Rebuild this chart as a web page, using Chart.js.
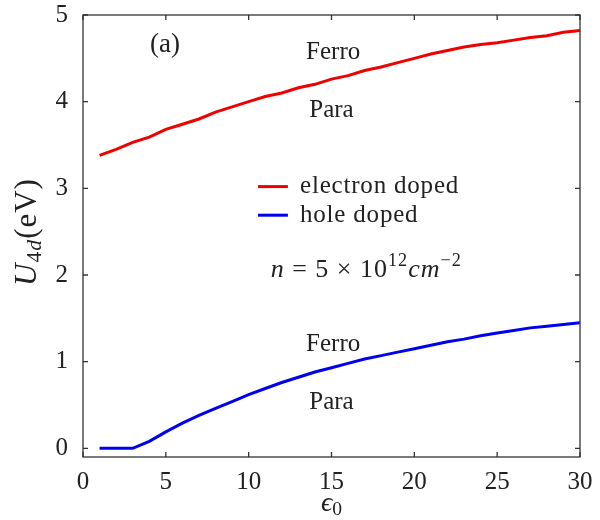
<!DOCTYPE html>
<html>
<head>
<meta charset="utf-8">
<script src="https://cdn.jsdelivr.net/npm/chart.js@4.4.1/dist/chart.umd.min.js"></script>
<style>
  html, body { margin: 0; padding: 0; background: #fff; }
  #wrap { width: 600px; height: 520px; }
</style>
</head>
<body>
<div id="wrap"><canvas id="chart" width="600" height="520"></canvas></div>
<script>
const epsilon = [1, 2, 3, 4, 5, 6, 7, 8, 9, 10, 11, 12, 13, 14, 15, 16, 17, 18, 19, 20, 21, 22, 23, 24, 25, 26, 27, 28, 29, 30];
const electronDoped = [3.38, 3.45, 3.53, 3.59, 3.68, 3.74, 3.80, 3.88, 3.94, 4.00, 4.06, 4.10, 4.16, 4.20, 4.26, 4.30, 4.36, 4.40, 4.45, 4.50, 4.55, 4.59, 4.63, 4.66, 4.68, 4.71, 4.74, 4.76, 4.80, 4.82];
const holeDoped = [0, 0, 0, 0.08, 0.19, 0.29, 0.38, 0.46, 0.54, 0.62, 0.69, 0.76, 0.82, 0.88, 0.93, 0.98, 1.03, 1.07, 1.11, 1.15, 1.19, 1.23, 1.26, 1.30, 1.33, 1.36, 1.39, 1.41, 1.43, 1.45];
const seriesLabels = ["electron doped", "hole doped"];
const xTicks = [0, 5, 10, 15, 20, 25, 30];
const yTicks = [0, 1, 2, 3, 4, 5];

const SERIF = "'Liberation Serif', 'DejaVu Serif', serif";
const INK = "#222";

// draws label pieces one after another
function drawPieces(ctx, pieces, x, y, size) {
  let cx = x;
  pieces.forEach(p => {
    const s = p.small ? size * 0.7 : size;
    ctx.font = (p.italic ? "italic " : "") + s + "px " + SERIF;
    ctx.fillText(p.t, cx, y + (p.dy || 0));
    cx += ctx.measureText(p.t).width;
  });
  return cx - x;
}
function piecesWidth(ctx, pieces, size) {
  let w = 0;
  pieces.forEach(p => {
    const s = p.small ? size * 0.7 : size;
    ctx.font = (p.italic ? "italic " : "") + s + "px " + SERIF;
    w += ctx.measureText(p.t).width;
  });
  return w;
}

const framePlugin = {
  id: "frame",
  afterDraw(chart) {
    const ctx = chart.ctx;
    const a = chart.chartArea;
    const xs = chart.scales.x, ys = chart.scales.y;
    ctx.save();
    ctx.strokeStyle = "#333";
    ctx.lineWidth = 1.3;
    ctx.strokeRect(a.left, a.top, a.right - a.left, a.bottom - a.top);
    ctx.beginPath();
    xTicks.forEach(v => {
      const px = xs.getPixelForValue(v);
      ctx.moveTo(px, a.bottom); ctx.lineTo(px, a.bottom - 5);
      ctx.moveTo(px, a.top); ctx.lineTo(px, a.top + 5);
    });
    yTicks.forEach(v => {
      const py = ys.getPixelForValue(v);
      ctx.moveTo(a.left, py); ctx.lineTo(a.left + 5, py);
      ctx.moveTo(a.right, py); ctx.lineTo(a.right - 5, py);
    });
    ctx.stroke();

    ctx.fillStyle = INK;
    ctx.textBaseline = "middle";
    ctx.textAlign = "center";
    const at = (x, y) => [xs.getPixelForValue(x), ys.getPixelForValue(y)];
    ctx.font = "27px " + SERIF;
    let p = at(4.95, 4.65); ctx.fillText("(a)", p[0], p[1]);
    ctx.font = "25px " + SERIF;
    p = at(15.1, 4.57); ctx.fillText("Ferro", p[0], p[1]);
    p = at(15.0, 3.9); ctx.fillText("Para", p[0], p[1]);
    p = at(15.1, 1.2); ctx.fillText("Ferro", p[0], p[1]);
    p = at(15.0, 0.53); ctx.fillText("Para", p[0], p[1]);

    // legend
    ctx.textAlign = "left";
    const legY = [3.02, 2.69];
    chart.data.datasets.forEach((ds, i) => {
      const l0 = at(10.56, legY[i]), l1 = at(12.37, legY[i]);
      ctx.strokeStyle = ds.borderColor;
      ctx.lineWidth = 3;
      ctx.beginPath(); ctx.moveTo(l0[0], l0[1]); ctx.lineTo(l1[0], l1[1]); ctx.stroke();
      ctx.font = "25px " + SERIF;
      ctx.letterSpacing = "0.8px";
      const t = at(13.1, legY[i]);
      ctx.fillText(ds.label, t[0], t[1]);
      ctx.letterSpacing = "0px";
    });

    // density note
    const note = [
      { t: "n", italic: true }, { t: " = 5 \u00d7 10" }, { t: "12", small: true, dy: -9 },
      { t: "cm", italic: true }, { t: "\u22122", small: true, dy: -9 }
    ];
    p = at(17.1, 2.06);
    ctx.letterSpacing = "1px";
    const nw = piecesWidth(ctx, note, 26);
    drawPieces(ctx, note, p[0] - nw / 2, p[1], 26);
    ctx.letterSpacing = "0px";

    // x title
    const xt = [{ t: "\u03f5", italic: true }, { t: "0", small: true, dy: 6 }];
    const xw = piecesWidth(ctx, xt, 28);
    drawPieces(ctx, xt, (a.left + a.right) / 2 - xw / 2, 504, 28);

    // y title
    const yt = [{ t: "U", italic: true }, { t: "4", small: true, dy: 7 }, { t: "d", italic: true, small: true, dy: 7 }, { t: "(eV)" }];
    ctx.translate(28, 232);
    ctx.rotate(-Math.PI / 2);
    ctx.letterSpacing = "1px";
    const yw = piecesWidth(ctx, yt, 31);
    drawPieces(ctx, yt, -yw / 2, 0, 31);
    ctx.restore();
  }
};

new Chart(document.getElementById("chart"), {
  type: "line",
  data: {
    labels: epsilon,
    datasets: [
      { label: seriesLabels[0], data: epsilon.map((e, i) => ({ x: e, y: electronDoped[i] })), borderColor: "#f00000", borderWidth: 3, pointRadius: 0, tension: 0 },
      { label: seriesLabels[1], data: epsilon.map((e, i) => ({ x: e, y: holeDoped[i] })), borderColor: "#0000f0", borderWidth: 3, pointRadius: 0, tension: 0 }
    ]
  },
  options: {
    responsive: false,
    animation: false,
    layout: { padding: { top: 15, right: 20, left: 0, bottom: 0 } },
    plugins: { legend: { display: false }, tooltip: { enabled: false } },
    scales: {
      x: {
        type: "linear", min: 0, max: 30,
        grid: { display: false, drawTicks: false }, border: { display: false },
        afterFit(s) { s.height = 63; s.paddingLeft = 0; s.paddingRight = 0; },
        afterBuildTicks(s) { s.ticks = xTicks.map(v => ({ value: v })); },
        ticks: { color: INK, font: { family: SERIF, size: 25 }, padding: 10, maxRotation: 0 }
      },
      y: {
        min: -0.1, max: 5,
        grid: { display: false, drawTicks: false }, border: { display: false },
        afterFit(s) { s.width = 83; s.paddingTop = 0; s.paddingBottom = 0; },
        afterBuildTicks(s) { s.ticks = yTicks.map(v => ({ value: v })); },
        ticks: { color: INK, font: { family: SERIF, size: 25 }, padding: 15 }
      }
    }
  },
  plugins: [framePlugin]
});
</script>
</body>
</html>
